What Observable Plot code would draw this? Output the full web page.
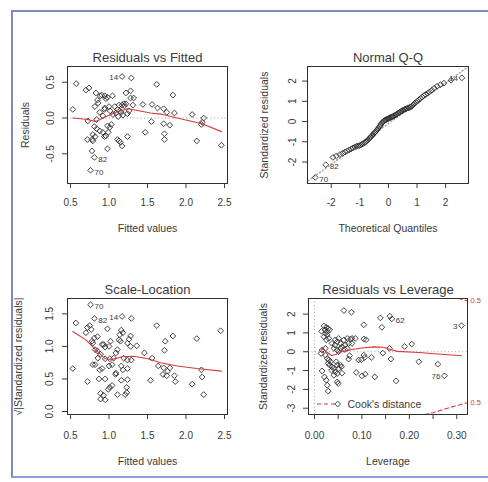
<!DOCTYPE html>
<html><head><meta charset="utf-8">
<script src="https://cdn.jsdelivr.net/npm/d3@7"></script>
<script src="https://cdn.jsdelivr.net/npm/@observablehq/plot@0.6"></script>
<style>
html,body{margin:0;padding:0;background:#fff;}
#wrap{position:relative;width:488px;height:482px;overflow:hidden;background:#fff;}
#border{position:absolute;left:11px;top:10px;width:480px;height:464px;border-left:2px solid #7b8cbf;border-top:2px solid #7b8cbf;border-bottom:2px solid #8b9fdc;}
</style></head><body><div id="wrap"><div id="border"></div></div>
<script>
// ---------- Residuals vs Fitted ----------
const rvfFitted = [1.17, 0.81, 0.76, 0.574, 0.53, 0.70, 0.74, 0.725, 1.29, 1.62, 1.83, 1.44, 1.56, 1.63, 1.71, 1.75, 1.85, 2.08, 2.23, 2.21, 2.20, 2.46, 2.14, 1.55, 1.47, 1.71, 1.79, 1.72, 1.72, 1.24, 0.83, 0.886, 0.906, 0.945, 0.98, 1.045, 0.85, 0.816, 0.86, 0.96, 0.94, 0.945, 0.88, 1.0, 1.015, 1.075, 1.09, 1.11, 1.13, 1.17, 1.19, 1.20, 1.22, 1.14, 1.16, 1.22, 1.28, 1.32, 1.28, 1.24, 1.26, 1.31, 1.03, 0.84, 0.81, 0.84, 0.88, 0.92, 0.79, 0.82, 0.72, 0.78, 0.79, 0.94, 0.98, 1.01, 0.99, 0.96, 1.11, 1.13, 1.15, 1.17, 0.98, 0.78, 1.05, 1.12, 1.18, 0.92];
const rvfResid = [0.58, -0.55, -0.73, 0.48, 0.12, 0.39, 0.42, -0.04, 0.56, 0.47, 0.32, 0.19, 0.19, 0.14, 0.13, 0.08, 0.07, 0.05, 0.0, -0.06, -0.09, -0.38, -0.32, -0.05, -0.20, -0.08, -0.10, -0.22, -0.30, -0.26, 0.35, 0.31, 0.32, 0.31, 0.29, 0.31, 0.25, 0.16, 0.21, 0.27, 0.12, 0.14, 0.08, 0.16, 0.10, 0.16, 0.07, 0.12, 0.18, 0.18, 0.20, 0.17, 0.20, 0.10, 0.08, 0.35, 0.38, 0.28, 0.28, 0.06, 0.10, 0.18, -0.09, -0.02, -0.12, -0.15, -0.18, -0.20, -0.23, -0.26, -0.30, -0.30, -0.32, -0.26, -0.11, -0.13, -0.20, -0.25, -0.30, -0.32, -0.34, -0.39, -0.43, -0.46, 0.05, 0.02, 0.04, 0.03];
const rvfLowessX = [0.53, 0.72, 0.83, 0.92, 1.09, 1.24, 1.30, 1.54, 1.67, 1.97, 2.21, 2.46];
const rvfLowessY = [0.0, -0.02, -0.05, 0.0, 0.08, 0.13, 0.12, 0.07, 0.055, -0.02, -0.08, -0.19];
const rvfLabelIdx = [0, 1, 2];
const rvfLabelText = ["14", "82", "70"];
const rvfLabelSide = ["left", "right", "right"];
const rvfXTicks = [0.5, 1.0, 1.5, 2.0, 2.5];
const rvfYTicks = [-0.5, 0.0, 0.5];

// ---------- Normal Q-Q ----------
const qqTheo = [-2.56, -2.19, -1.94, -1.82, -1.70, -1.60, -1.52, -1.44, -1.37, -1.30, -1.24, -1.18, -1.12, -1.07, -1.02, -0.97, -0.92, -0.88, -0.83, -0.79, -0.75, -0.71, -0.67, -0.63, -0.59, -0.56, -0.52, -0.48, -0.45, -0.41, -0.38, -0.35, -0.31, -0.28, -0.25, -0.22, -0.18, -0.15, -0.12, -0.09, -0.06, -0.03, 0.0, 0.03, 0.06, 0.09, 0.12, 0.15, 0.18, 0.22, 0.25, 0.28, 0.31, 0.35, 0.38, 0.41, 0.45, 0.48, 0.52, 0.56, 0.59, 0.63, 0.67, 0.71, 0.75, 0.79, 0.83, 0.88, 0.92, 0.97, 1.02, 1.07, 1.12, 1.18, 1.24, 1.30, 1.37, 1.44, 1.52, 1.60, 1.70, 1.82, 1.94, 2.19, 2.57];
const qqStd = [-2.76, -2.13, -1.77, -1.70, -1.63, -1.57, -1.50, -1.45, -1.40, -1.35, -1.30, -1.26, -1.22, -1.20, -1.19, -1.16, -1.12, -1.08, -1.04, -1.00, -0.95, -0.90, -0.84, -0.78, -0.72, -0.67, -0.60, -0.55, -0.50, -0.44, -0.38, -0.32, -0.25, -0.18, -0.11, -0.05, 0.00, 0.04, 0.07, 0.09, 0.11, 0.13, 0.15, 0.17, 0.19, 0.21, 0.23, 0.25, 0.27, 0.30, 0.33, 0.36, 0.39, 0.42, 0.45, 0.48, 0.51, 0.54, 0.57, 0.60, 0.62, 0.64, 0.66, 0.68, 0.70, 0.73, 0.78, 0.85, 0.90, 0.96, 1.02, 1.08, 1.14, 1.21, 1.28, 1.34, 1.40, 1.47, 1.55, 1.65, 1.74, 1.82, 1.90, 2.04, 2.16];
const qqLineX = [-3.0, 3.0];
const qqLineY = [-3.12, 2.92];
const qqLabelIdx = [0, 1, 84];
const qqLabelText = ["70", "82", "14"];
const qqLabelSide = ["right", "right", "left"];
const qqXTicks = [-2, -1, 0, 1, 2];
const qqYTicks = [-2, -1, 0, 1, 2];

// ---------- Scale-Location ----------
const slFitted = [0.76, 0.81, 1.17, 1.29, 0.57, 1.62, 0.72, 0.75, 0.77, 0.70, 0.85, 0.98, 1.16, 1.18, 1.14, 1.13, 1.15, 1.28, 1.26, 1.24, 1.28, 1.36, 1.73, 1.83, 2.14, 2.45, 0.81, 0.78, 0.79, 0.91, 0.93, 0.95, 1.02, 1.0, 0.82, 0.85, 0.89, 0.855, 0.95, 1.01, 1.06, 1.09, 1.11, 1.19, 1.24, 1.29, 1.46, 1.56, 1.72, 1.64, 1.71, 1.76, 1.79, 1.85, 1.86, 1.70, 1.75, 2.20, 2.21, 2.08, 2.23, 1.54, 0.53, 0.72, 0.79, 0.82, 0.88, 0.91, 0.87, 0.95, 1.0, 1.04, 1.09, 1.085, 1.16, 1.18, 1.24, 1.04, 1.01, 0.99, 1.16, 1.24, 1.23, 0.89, 0.93, 0.95, 0.89, 1.11, 1.21, 1.23];
const slSqrt = [1.64, 1.43, 1.46, 1.43, 1.36, 1.32, 1.29, 1.32, 1.26, 1.21, 1.15, 1.27, 1.25, 1.21, 1.18, 1.10, 1.08, 1.16, 1.11, 1.05, 1.00, 1.01, 1.08, 1.16, 1.12, 1.24, 1.13, 1.08, 1.05, 1.03, 1.03, 0.99, 1.08, 1.0, 0.95, 0.93, 0.88, 0.82, 0.81, 0.81, 0.82, 0.90, 0.95, 0.82, 0.79, 0.79, 0.90, 0.82, 0.94, 0.70, 0.67, 0.62, 0.67, 0.55, 0.46, 0.57, 0.55, 0.64, 0.53, 0.42, 0.26, 0.48, 0.66, 0.46, 0.72, 0.72, 0.64, 0.66, 0.50, 0.50, 0.70, 0.72, 0.59, 0.57, 0.70, 0.64, 0.66, 0.40, 0.37, 0.34, 0.48, 0.49, 0.37, 0.28, 0.25, 0.18, 0.19, 0.26, 0.26, 0.29];
const slLowessX = [0.53, 0.70, 0.80, 0.95, 1.04, 1.17, 1.32, 1.50, 1.67, 1.89, 2.14, 2.46];
const slLowessY = [1.23, 1.10, 0.98, 0.81, 0.80, 0.84, 0.85, 0.81, 0.75, 0.70, 0.66, 0.62];
const slLabelIdx = [0, 1, 2];
const slLabelText = ["70", "82", "14"];
const slLabelSide = ["right", "right", "left"];
const slXTicks = [0.5, 1.0, 1.5, 2.0, 2.5];
const slYTicks = [0.0, 0.5, 1.0, 1.5];

// ---------- Residuals vs Leverage ----------
const rvlLev = [0.163, 0.31, 0.274, 0.062, 0.078, 0.104, 0.139, 0.142, 0.159, 0.19, 0.205, 0.158, 0.22, 0.26, 0.172, 0.127, 0.161, 0.144, 0.104, 0.106, 0.099, 0.093, 0.12, 0.088, 0.10, 0.107, 0.074, 0.072, 0.057, 0.104, 0.109, 0.076, 0.086, 0.020, 0.025, 0.029, 0.022, 0.015, 0.027, 0.032, 0.023, 0.027, 0.020, 0.030, 0.025, 0.037, 0.044, 0.051, 0.048, 0.055, 0.062, 0.069, 0.079, 0.058, 0.065, 0.072, 0.079, 0.043, 0.016, 0.023, 0.041, 0.048, 0.055, 0.064, 0.069, 0.051, 0.014, 0.023, 0.027, 0.030, 0.034, 0.029, 0.032, 0.037, 0.041, 0.036, 0.044, 0.048, 0.041, 0.051, 0.048, 0.055, 0.046, 0.016, 0.021, 0.025, 0.027, 0.029, 0.048, 0.050, 0.058, 0.049];
const rvlStd = [1.75, 1.39, -1.28, 2.19, 2.10, 1.43, 1.80, 1.30, 1.89, 0.28, 0.41, 0.18, -0.53, -0.66, -1.55, -1.34, -0.39, -0.07, -0.18, -0.30, -0.43, -0.44, -0.30, -1.10, -1.28, -1.19, -0.21, -0.39, -0.80, 0.68, 0.64, 0.68, 0.71, 1.37, 1.30, 1.23, 1.16, 1.09, 1.07, 1.16, 0.98, 0.89, 0.80, 0.71, 0.63, 0.44, 0.63, 0.71, 0.53, 0.44, 0.63, 0.71, 0.71, 0.27, 0.36, 0.44, 0.44, 0.36, 0.09, 0.18, 0.18, 0.09, 0.18, 0.12, 0.18, 0.0, -0.09, -0.18, -0.36, -0.44, -0.53, -0.62, -0.71, -0.80, -0.89, -0.98, -1.07, -1.16, -1.25, -0.89, -0.71, -0.71, -0.53, -1.02, -1.34, -1.51, -1.78, -2.09, -1.60, -1.69, -1.14, -2.78];
const rvlLowessX = [0.013, 0.020, 0.028, 0.036, 0.045, 0.058, 0.080, 0.100, 0.125, 0.145, 0.160, 0.175, 0.220, 0.260, 0.310];
const rvlLowessY = [0.16, 0.10, -0.05, -0.20, -0.15, 0.02, 0.12, 0.20, 0.26, 0.24, 0.12, 0.02, -0.04, -0.12, -0.21];
const cookLev = [0.232, 0.25, 0.27, 0.29, 0.31, 0.323];
const cookLower = [-3.34, -3.24, -3.08, -2.93, -2.79, -2.70];
const cookUpper = [3.34, 3.24, 3.08, 2.93, 2.79, 2.70];
const cookLabelY = [2.70, -2.70];
const cookLabelText = ["0.5", "0.5"];
const rvlLabelIdx = [0, 1, 2];
const rvlLabelText = ["62", "3", "76"];
const rvlLabelSide = ["right", "left", "left"];
const rvlXTicks = [0.0, 0.05, 0.10, 0.15, 0.20, 0.25, 0.30];
const rvlYTicks = [-3, -2, -1, 0, 1, 2];

// ---------- drawing ----------
const FONT = '"Liberation Sans", Arial, Helvetica, sans-serif';
const INK = "#2e2e2e";
const TXT = "#3a3a3a";
const RED = "#d43a3a";
const GREY = "#a6a6a6";
const wrap = document.getElementById("wrap");

function pts(X, Y) { return X.map((x, i) => ({x, y: Y[i]})); }
function dots(X, Y) {
  return Plot.dot(pts(X, Y), {x: "x", y: "y", symbol: "diamond2", r: 2.6, stroke: INK, strokeWidth: 0.9, fill: "none"});
}
function redLine(X, Y, extra = {}) {
  return Plot.line(pts(X, Y), {x: "x", y: "y", stroke: RED, strokeWidth: 1.1, ...extra});
}
function labels(X, Y, idx, txt, side) {
  const rows = idx.map((k, j) => ({x: X[k], y: Y[k], t: txt[j], s: side[j]}));
  return [
    Plot.text(rows.filter(d => d.s === "right"), {x: "x", y: "y", text: "t", textAnchor: "start", lineAnchor: "middle", dx: 4, dy: 2, fontSize: 8, fill: TXT}),
    Plot.text(rows.filter(d => d.s === "left"), {x: "x", y: "y", text: "t", textAnchor: "end", lineAnchor: "middle", dx: -4, dy: 1, fontSize: 8, fill: TXT})
  ];
}

function panel(o) {
  const marks = [
    ...o.marks,
    Plot.frame({stroke: INK, strokeWidth: 1}),
    Plot.axisX({ticks: o.xTicks, tickSize: 5, tickPadding: o.xPad, tickFormat: o.xFmt, fontSize: 10, label: null}),
    Plot.axisY({ticks: o.yTicks, tickSize: 5, tickFormat: () => "", label: null}),
    Plot.text(o.yTicks, {y: d => d, text: o.yFmt, frameAnchor: "left", rotate: -90, textAnchor: "middle", lineAnchor: "middle", dx: -o.yTickOff, fontSize: 10, fill: TXT}),
    Plot.text([o.title], {frameAnchor: "top", textAnchor: "middle", lineAnchor: "middle", dy: -9, fontSize: 13, fill: TXT, fontWeight: "normal"}),
    Plot.text([o.xLabel], {frameAnchor: "bottom", textAnchor: "middle", lineAnchor: "middle", dy: o.xLabelOff, fontSize: 10.5, fill: TXT}),
    Plot.text([o.yLabel], {frameAnchor: "left", rotate: -90, textAnchor: "middle", lineAnchor: "middle", dx: -o.yLabelOff, fontSize: 10.5, fill: TXT})
  ];
  const svg = Plot.plot({
    width: 244, height: 241,
    marginLeft: o.m[0], marginRight: o.m[1], marginTop: o.m[2], marginBottom: o.m[3],
    x: {domain: o.xDomain, axis: null},
    y: {domain: o.yDomain, axis: null},
    style: {fontFamily: FONT, fontSize: "10px", color: TXT, background: "transparent", overflow: "visible"},
    marks
  });
  svg.style.position = "absolute";
  svg.style.left = o.left + "px";
  svg.style.top = o.top + "px";
  wrap.appendChild(svg);
}

const f1 = d => d.toFixed(1);
const f0 = d => String(d);

panel({
  left: 0, top: 0, m: [67, 17, 66, 58],
  xDomain: [0.461, 2.539], yDomain: [-0.915, 0.72],
  xTicks: rvfXTicks, xFmt: f1, yTicks: rvfYTicks, yFmt: f1, xPad: 10,
  yTickOff: 17, yLabelOff: 42, xLabelOff: 45,
  title: "Residuals vs Fitted", xLabel: "Fitted values", yLabel: "Residuals",
  marks: [
    Plot.ruleY([0], {stroke: GREY, strokeDasharray: "1,2.5"}),
    dots(rvfFitted, rvfResid),
    redLine(rvfLowessX, rvfLowessY),
    ...labels(rvfFitted, rvfResid, rvfLabelIdx, rvfLabelText, rvfLabelSide)
  ]
});

panel({
  left: 244, top: 0, m: [63, 20, 66, 58],
  xDomain: [-2.83, 2.80], yDomain: [-3.06, 2.72],
  xTicks: qqXTicks, xFmt: f0, yTicks: qqYTicks, yFmt: f0, xPad: 10,
  yTickOff: 15, yLabelOff: 43, xLabelOff: 45,
  title: "Normal Q-Q", xLabel: "Theoretical Quantiles", yLabel: "Standardized residuals",
  marks: [
    Plot.line(pts(qqLineX, qqLineY), {x: "x", y: "y", stroke: GREY, strokeDasharray: "1,2.5", clip: true}),
    dots(qqTheo, qqStd),
    ...labels(qqTheo, qqStd, qqLabelIdx, qqLabelText, qqLabelSide)
  ]
});

panel({
  left: 0, top: 241, m: [67, 17, 57, 68],
  xDomain: [0.461, 2.539], yDomain: [-0.046, 1.736],
  xTicks: slXTicks, xFmt: f1, yTicks: slYTicks, yFmt: f1, xPad: 12,
  yTickOff: 18, yLabelOff: 49, xLabelOff: 47,
  title: "Scale-Location", xLabel: "Fitted values", yLabel: "\u221A|Standardized residuals|",
  marks: [
    dots(slFitted, slSqrt),
    redLine(slLowessX, slLowessY),
    ...labels(slFitted, slSqrt, slLabelIdx, slLabelText, slLabelSide)
  ]
});

function cookLegend(index, scales, values, dims) {
  const g = d3.create("svg:g");
  const x0 = dims.marginLeft, y0 = dims.height - dims.marginBottom - 10;
  g.append("line").attr("x1", x0 + 9).attr("x2", x0 + 27).attr("y1", y0).attr("y2", y0)
    .attr("stroke", RED).attr("stroke-width", 1.1).attr("stroke-dasharray", "4,3");
  return g.node();
}

panel({
  left: 244, top: 241, m: [64, 21, 57, 68],
  xDomain: [-0.0126, 0.3226], yDomain: [-3.335, 2.83],
  xTicks: rvlXTicks, xFmt: d => (Math.abs(d * 10 - Math.round(d * 10)) < 1e-9 ? d.toFixed(2) : ""),
  yTicks: rvlYTicks, yFmt: f0, xPad: 12,
  yTickOff: 17, yLabelOff: 45, xLabelOff: 47,
  title: "Residuals vs Leverage", xLabel: "Leverage", yLabel: "Standardized residuals",
  marks: [
    Plot.ruleY([0], {stroke: GREY, strokeDasharray: "1,2.5"}),
    Plot.ruleX([0], {stroke: GREY, strokeDasharray: "1,2.5"}),
    dots(rvlLev, rvlStd),
    redLine(rvlLowessX, rvlLowessY),
    redLine(cookLev, cookLower, {strokeDasharray: "4,3", clip: true}),
    redLine(cookLev, cookUpper, {strokeDasharray: "4,3", clip: true}),
    Plot.text(cookLabelY.map((y, i) => ({y, t: cookLabelText[i]})), {x: () => 0.3226, y: "y", text: "t", textAnchor: "start", lineAnchor: "middle", dx: 3, fontSize: 7.5, fill: RED}),
    ...labels(rvlLev, rvlStd, rvlLabelIdx, rvlLabelText, rvlLabelSide),
    Plot.text(["Cook's distance"], {frameAnchor: "bottom-left", dx: 39, dy: -10, textAnchor: "start", lineAnchor: "middle", fontSize: 10.5, fill: TXT}),
    cookLegend
  ]
});
</script>
</body></html>
